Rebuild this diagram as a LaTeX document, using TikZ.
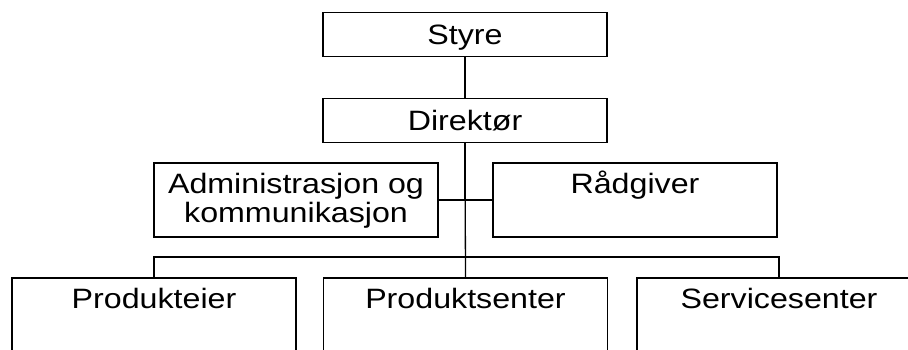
\documentclass[tikz,border=0pt]{standalone}
\usepackage{fontspec}
\setmainfont{Liberation Sans}[FakeStretch=1.15]
\usepackage{tikz}
\newcommand{\linetop}{\rule{0pt}{25pt}}

\begin{document}
\begin{tikzpicture}[x=1pt, y=-1pt,
    box/.style={draw, line width=1.3pt, minimum width=284pt, minimum height=44pt,
        inner sep=0pt, align=center, font=\fontsize{28}{28.6}\selectfont},
    headbox/.style={box, text depth=0pt},
    tallbox/.style={box, minimum height=74pt},
    link/.style={line width=1.3pt},
    trunk/.style={line width=2.6pt}]
% Frame
\clip (0,0) rectangle (908,349);
\fill[white] (0,0) rectangle (908,349);

% Top levels
\node[headbox] (styre) at (465,34.5) {Styre};
\node[headbox] (dir) at (465,120.5) {Direktør};

% Staff
\node[tallbox] (admin) at (296,200) {Administrasjon og\linetop\\kommunikasjon\strut};
\node[tallbox] (raad) at (635,200) {Rådgiver\linetop\\\strut};

% Units (cut at the lower edge)
\node[tallbox] (eier) at (154,315) {Produkteier\linetop\\\strut};
\node[tallbox] (senter) at (465.5,315) {Produktsenter\linetop\\\strut};
\node[tallbox] (service) at (779,315) {Servicesenter\linetop\\\strut};

% Connectors
\coordinate (staff) at (dir.south |- admin.east);
\coordinate (bus) at (dir.south |- 0,257);
\draw[link] (styre) -- (dir);
\draw[link] (dir.south) -- (senter.north);
\draw[trunk] (dir.south) -- (staff);
\draw[link] (admin.east) -- (raad.west);
\draw[link] (eier.north) |- (bus) -| (service.north);
\end{tikzpicture}
\end{document}
